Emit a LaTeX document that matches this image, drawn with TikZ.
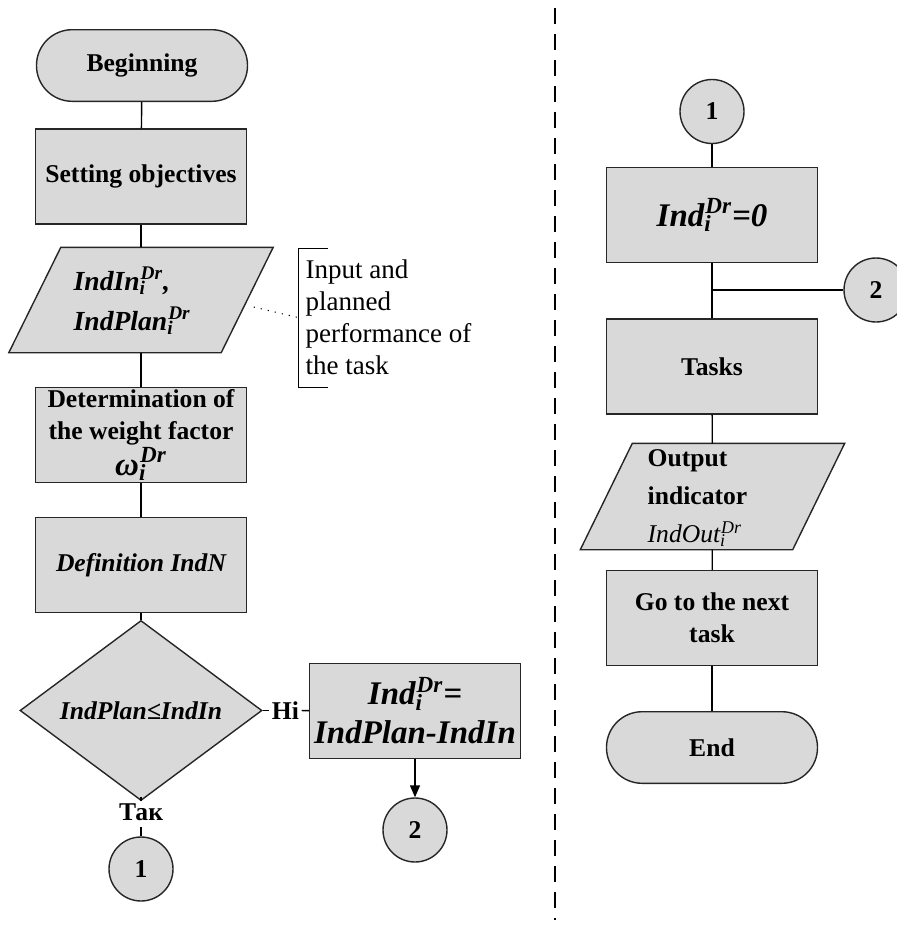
\documentclass[tikz,border=0pt]{standalone}
\usepackage{fontspec}
\setmainfont{Liberation Serif}
\usetikzlibrary{shapes.geometric,arrows.meta,positioning}

\newcommand\idr{\textsubscript{\rlap{i}}\textsuperscript{Dr}}

\tikzset{
  shapebase/.style={draw=black!85, fill=black!15, line width=0.7pt, inner sep=0pt},
  block/.style={shapebase, rectangle, minimum width=105.5pt, minimum height=47.5pt,
    align=center, font=\fontsize{12.8}{16}\selectfont\bfseries},
  term/.style={shapebase, rectangle, rounded corners=17.8pt, minimum width=105.5pt,
    minimum height=35.8pt, font=\fontsize{12.8}{16}\selectfont\bfseries},
  io/.style={rectangle, inner sep=0pt, minimum width=105.5pt, minimum height=52pt},
  iofill/.style={draw=black!85, fill=black!15, line width=0.7pt},
  cond/.style={shapebase, diamond, minimum width=121pt, minimum height=72.5pt,
    font=\fontsize{12.8}{16}\selectfont\bfseries\itshape},
  conn/.style={shapebase, circle, minimum size=32pt, font=\fontsize{12.8}{16}\selectfont\bfseries},
  lbl/.style={inner sep=1pt, font=\fontsize{12.8}{16}\selectfont\bfseries},
  bigtext/.style={font=\fontsize{16.5}{19.5}\selectfont\bfseries\itshape},
  note/.style={anchor=west, align=left, inner sep=0pt, font=\fontsize{13.5}{16}\selectfont},
}

\begin{document}
\begin{tikzpicture}[x=0.5pt, y=-0.5pt, line width=0.7pt]
    \clip (0,0) rectangle (897,926);

    % Colonne gauche
    \node[term] (beg) at (142,65.5) {Beginning};
    \node[block] (goal) at (141,176.5) {Setting objectives};
    \node[io] (inp) at (141,300) {};
    \draw[iofill] ([xshift=-13pt]inp.south west) -- ([xshift=-13pt]inp.south east)
        -- ([xshift=13pt]inp.north east) -- ([xshift=13pt]inp.north west) -- cycle;
    \node[note, font=\fontsize{13.8}{20}\selectfont\bfseries\itshape] (inptxt) at (73,301)
        {IndIn\idr,\\IndPlan\idr};
    \node[block] (wgt) at (141,435) {Determination of\\the weight factor\\{\fontsize{16.5}{16}\selectfont\itshape ω\idr}};
    \node[block, font=\fontsize{12.8}{16}\selectfont\bfseries\itshape] (indn) at (141,565) {Definition IndN};
    \node[cond] (cmp) at (141,710.5) {IndPlan≤IndIn};
    \node[lbl] (no) at (285.5,710.5) {Ні};
    \node[block, bigtext] (diff) at (415,710.8) {Ind\idr=\\IndPlan-IndIn};
    \node[lbl, inner sep=3pt] (yes) at (141,812) {Так};
    \node[conn] (c1) at (141,869) {1};
    \node[conn] (c2) at (415,830) {2};

    % Commentaire sur les entrées
    \coordinate (brk) at (298,317.5);
    \draw[line width=0.5pt] (328,248) -- (298,248) -- (298,387) -- (328,387);
    \node[note] (inptnote) at (305,317.5) {Input and\\planned\\performance of\\the task};
    \draw[line width=0.5pt, dash pattern=on 0.6pt off 3pt] ([xshift=3.25pt,yshift=-3.5pt]inp.east) -- (brk);

    % Colonne droite
    \node[conn] (r1) at (712,111.5) {1};
    \node[block, bigtext] (zero) at (712,215) {Ind\idr=0};
    \coordinate (jn) at (712,290);
    \node[conn] (r2) at (876,290) {2};
    \node[block] (task) at (712,366.5) {Tasks};
    \node[io, minimum height=52.5pt] (out) at (712.5,496.5) {};
    \draw[iofill] ([xshift=-13pt]out.south west) -- ([xshift=-13pt]out.south east)
        -- ([xshift=13pt]out.north east) -- ([xshift=13pt]out.north west) -- cycle;
    \node[note, font=\fontsize{12.8}{19}\selectfont\bfseries] (outtxt) at (647,498)
        {Output\\indicator\\{\mdseries\itshape IndOut\idr}};
    \node[block] (next) at (712,618) {Go to the next\\task};
    \node[term] (fin) at (712,747.5) {End};

    % Liaisons
    \draw (beg) -- (goal);
    \draw (goal) -- (inp);
    \draw (inp) -- (wgt);
    \draw (wgt) -- (indn);
    \draw (indn) -- (cmp);
    \draw (cmp) -- (yes);
    \draw (yes) -- (c1);
    \draw (cmp) -- (no);
    \draw (no) -- (diff);
    \draw[-{Triangle[length=6pt,width=5pt]}] (diff) -- (c2);
    \draw (r1) -- (zero);
    \draw (zero) -- (task);
    \draw (jn) -- (r2);
    \draw (task) -- (out);
    \draw (out) -- (next);
    \draw (next) -- (fin);

    % Séparation
    \draw[line width=0.6pt, dash pattern=on 8pt off 5pt] (555,8) -- (555,920);
\end{tikzpicture}
\end{document}
